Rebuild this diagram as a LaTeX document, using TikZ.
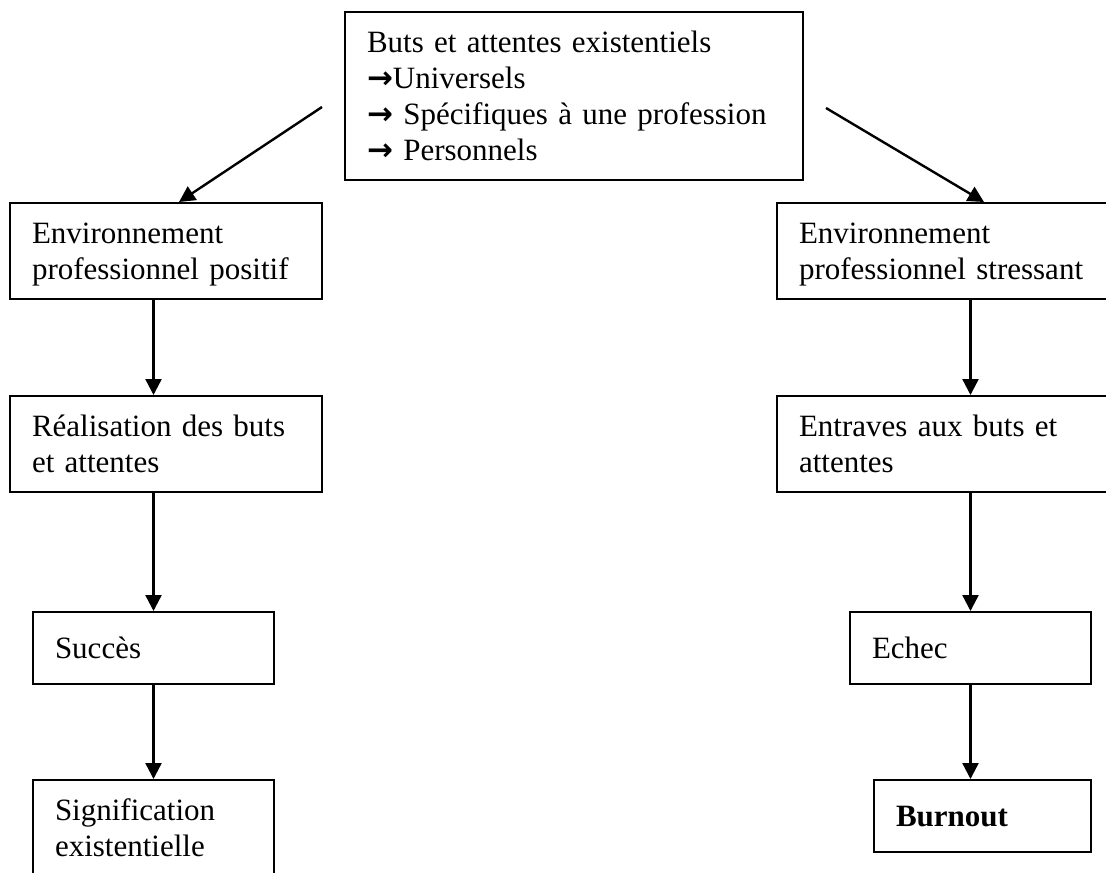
\documentclass[tikz,border=0pt]{standalone}
\usepackage{fontspec}
\setmainfont{Liberation Serif}
\newfontfamily\arrowfont{DejaVu Sans}
\newcommand{\pointer}{{\arrowfont\bfseries →}}
\usetikzlibrary{arrows.meta}

\tikzset{%
  stage/.style = {draw,line width=2pt,rectangle,inner xsep=22pt,inner ysep=0pt,
                  align=left,font=\fontsize{31}{36}\selectfont,
                  execute at begin node={\rule{0pt}{32pt}},execute at end node=\strut},
  flow/.style  = {line width=2.4pt,-{Triangle[length=16pt,width=16pt]}},
}

\begin{document}
\begin{tikzpicture}[x=1pt,y=-1pt]

\clip (0,0) rectangle (1106,873);

\coordinate(lstart) at (322,107); % towards positive side
\coordinate(rstart) at (826,108); % towards stressful side

% Goals
\node[stage,text width=414pt,minimum height=168pt,
      execute at begin node=\strut] (goals) at (574,96)
  {Buts et attentes existentiels\\ \pointer Universels\\ \pointer{} Spécifiques à une profession\\ \pointer{} Personnels};

% Positive side
\node[stage,text width=268pt,minimum height=96pt] (envpos) at (166,251)
  {Environnement\\ professionnel positif};
\node[stage,text width=268pt,minimum height=96pt] (reach) at (166,444)
  {Réalisation des buts\\ et attentes};
\node[stage,text width=197pt,minimum height=72pt] (success) at (153.5,648) {Succès};
\node[stage,text width=197pt,minimum height=96pt] (meaning) at (153.5,828)
  {Signification\\ existentielle};

% Stressful side
\node[stage,text width=291pt,minimum height=96pt] (envstress) at (944.5,251)
  {Environnement\\ professionnel stressant};
\node[stage,text width=291pt,minimum height=96pt] (hinder) at (944.5,444)
  {Entraves aux buts et\\ attentes};
\node[stage,text width=197pt,minimum height=72pt] (failure) at (970.5,648) {Echec};
\node[stage,text width=173pt,minimum height=72pt] (burnout) at (982.5,816)
  {\textbf{Burnout}};

% Arrows
\draw[flow] (lstart) -- ([xshift=170pt]envpos.north west);
\draw[flow] (rstart) -- ([xshift=208pt]envstress.north west);

\draw[flow] (envpos.south -| success.north) -- (reach.north -| success.north);
\draw[flow] (reach.south -| success.north)  -- (success.north);
\draw[flow] (success.south) -- (meaning.north);

\draw[flow] (envstress.south -| failure.north) -- (hinder.north -| failure.north);
\draw[flow] (hinder.south -| failure.north)    -- (failure.north);
\draw[flow] (failure.south) -- (burnout.north -| failure.south);

\end{tikzpicture}
\end{document}
